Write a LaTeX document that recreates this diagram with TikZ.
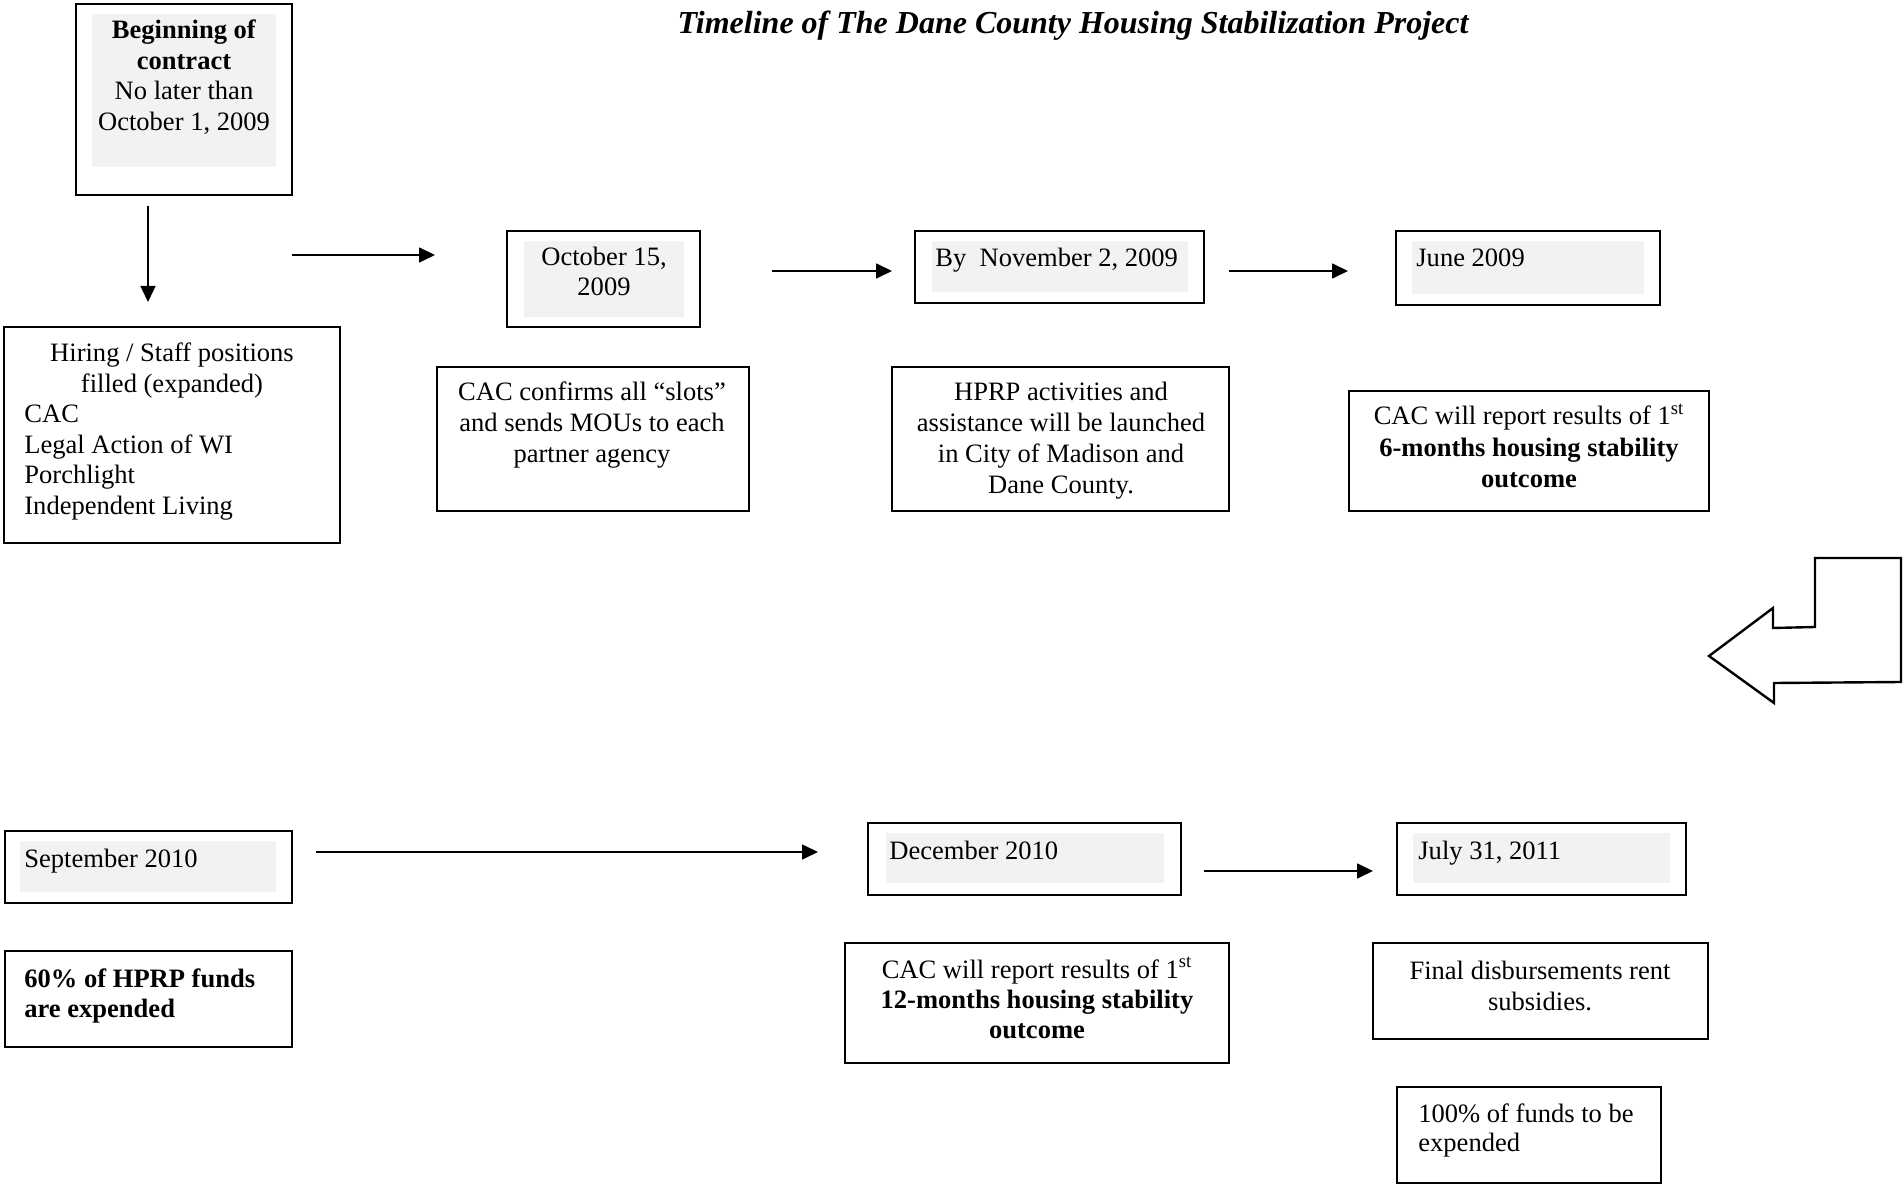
\documentclass[tikz,border=0pt]{standalone}
\usepackage{fontspec}
\setmainfont{Liberation Serif}
\usetikzlibrary{arrows.meta}
\newcommand\bodyfont{\fontsize{13.27pt}{15.25pt}\selectfont}
\newcommand\titlefont{\fontsize{16pt}{19pt}\selectfont\bfseries\itshape}
\definecolor{greyfill}{HTML}{F2F2F2}
\tikzset{
  box/.style={draw=black, line width=1pt, rectangle, inner sep=0pt},
  txt/.style={inner sep=0pt, font=\bodyfont},
  link/.style={line width=0.8pt, -{Triangle[length=8pt,width=7.5pt]}},
}
\begin{document}
\begin{tikzpicture}[x=0.5pt,y=-0.5pt]
\useasboundingbox (0,0) rectangle (1904,1186);
\fill[white] (0,0) rectangle (1904,1186);

% title
\node[inner sep=0pt, font=\titlefont, anchor=base] (title) at (1073,34) {Timeline of The Dane County Housing Stabilization Project};

% boxes
\node[box, minimum width=108pt, minimum height=95.5pt] (b1) at (184,99.5) {};
\node[box, minimum width=168pt, minimum height=108pt] (b2) at (172,435) {};
\node[box, minimum width=96.5pt, minimum height=48pt] (b3) at (603.5,279) {};
\node[box, minimum width=144.5pt, minimum height=36pt] (b4) at (1059.5,267) {};
\node[box, minimum width=132pt, minimum height=37pt] (b5) at (1528,268) {};
\node[box, minimum width=156pt, minimum height=72pt] (b6) at (593,439) {};
\node[box, minimum width=168.5pt, minimum height=72pt] (b7) at (1060.5,439) {};
\node[box, minimum width=180pt, minimum height=60pt] (b8) at (1529,451) {};
\node[box, minimum width=143.5pt, minimum height=36pt] (b9) at (148.5,867) {};
\node[box, minimum width=143.5pt, minimum height=48pt] (b10) at (148.5,999) {};
\node[box, minimum width=156.5pt, minimum height=36pt] (b11) at (1024.5,859) {};
\node[box, minimum width=144.5pt, minimum height=36pt] (b12) at (1541.5,859) {};
\node[box, minimum width=192pt, minimum height=60pt] (b13) at (1037,1003) {};
\node[box, minimum width=167.5pt, minimum height=48pt] (b14) at (1540.5,991) {};
\node[box, minimum width=132pt, minimum height=48pt] (b15) at (1529,1135) {};

% grey shading inside date boxes
\fill[greyfill] (92,14) rectangle (276,167);
\fill[greyfill] (524,241) rectangle (684,317);
\fill[greyfill] (932,241) rectangle (1188,292);
\fill[greyfill] (1412,241) rectangle (1644,294);
\fill[greyfill] (20,841) rectangle (276,892);
\fill[greyfill] (886,833) rectangle (1164,883);
\fill[greyfill] (1413,833) rectangle (1670,883);

% texts
\node[txt, anchor=base] (t1a) at (184,39) {\textbf{Beginning of}};
\node[txt, anchor=base] (t1b) at (184,70) {\textbf{contract}};
\node[txt, anchor=base] (t1c) at (184,100) {No later than};
\node[txt, anchor=base] (t1d) at (184,131) {October 1, 2009};

\node[txt, anchor=base] (t2a) at (172,362) {Hiring / Staff positions};
\node[txt, anchor=base] (t2b) at (172,393) {filled (expanded)};
\node[txt, anchor=base west] (t2c) at (24,423) {CAC};
\node[txt, anchor=base west] (t2d) at (24,454) {Legal Action of WI};
\node[txt, anchor=base west] (t2e) at (24,484) {Porchlight};
\node[txt, anchor=base west] (t2f) at (24,515) {Independent Living};

\node[txt, anchor=base] (t3a) at (604,266) {October 15,};
\node[txt, anchor=base] (t3b) at (604,296) {2009};

\node[txt, anchor=base west] (t4) at (935,267) {By\ \ November 2, 2009};
\node[txt, anchor=base west] (t5) at (1416,267) {June 2009};

\node[txt, anchor=base] (t6a) at (592,401) {CAC confirms all “slots”};
\node[txt, anchor=base] (t6b) at (592,432) {and sends MOUs to each};
\node[txt, anchor=base] (t6c) at (592,463) {partner agency};

\node[txt, anchor=base] (t7a) at (1061,401) {HPRP activities and};
\node[txt, anchor=base] (t7b) at (1061,432) {assistance will be launched};
\node[txt, anchor=base] (t7c) at (1061,463) {in City of Madison and};
\node[txt, anchor=base] (t7d) at (1061,494) {Dane County.};

\node[txt, anchor=base] (t8a) at (1529,425) {CAC will report results of 1\textsuperscript{st}};
\node[txt, anchor=base] (t8b) at (1529,457) {\textbf{6-months housing stability}};
\node[txt, anchor=base] (t8c) at (1529,488) {\textbf{outcome}};

\node[txt, anchor=base west] (t9) at (24,867) {September 2010};
\node[txt, anchor=base west] (t10a) at (24,987) {\textbf{60\% of HPRP funds}};
\node[txt, anchor=base west] (t10b) at (24,1017) {\textbf{are expended}};

\node[txt, anchor=base west] (t11) at (889,859) {December 2010};
\node[txt, anchor=base west] (t12) at (1418,859) {July 31, 2011};

\node[txt, anchor=base] (t13a) at (1037,978) {CAC will report results of 1\textsuperscript{st}};
\node[txt, anchor=base] (t13b) at (1037,1008) {\textbf{12-months housing stability}};
\node[txt, anchor=base] (t13c) at (1037,1038) {\textbf{outcome}};

\node[txt, anchor=base] (t14a) at (1540,979) {Final disbursements rent};
\node[txt, anchor=base] (t14b) at (1540,1010) {subsidies.};

\node[txt, anchor=base west] (t15a) at (1418,1122) {100\% of funds to be};
\node[txt, anchor=base west] (t15b) at (1418,1151) {expended};

% arrows (free-standing, between named coordinates)
\coordinate (a1s) at (148,206); \coordinate (a1e) at (148,302);
\coordinate (a2s) at (292,255); \coordinate (a2e) at (435,255);
\coordinate (a3s) at (772,271); \coordinate (a3e) at (892,271);
\coordinate (a4s) at (1229,271); \coordinate (a4e) at (1348,271);
\coordinate (a5s) at (316,852); \coordinate (a5e) at (818,852);
\coordinate (a6s) at (1204,871); \coordinate (a6e) at (1373,871);
\draw[link] (a1s) -- (a1e);
\draw[link] (a2s) -- (a2e);
\draw[link] (a3s) -- (a3e);
\draw[link] (a4s) -- (a4e);
\draw[link] (a5s) -- (a5e);
\draw[link] (a6s) -- (a6e);

% bent block arrow
\draw[line width=1.2pt, line join=miter] (1815,558) -- (1901,558) -- (1901,682) -- (1774,683) -- (1774,703) -- (1709,656) -- (1773,608) -- (1773,628) -- (1815,627) -- cycle;
\end{tikzpicture}
\end{document}
